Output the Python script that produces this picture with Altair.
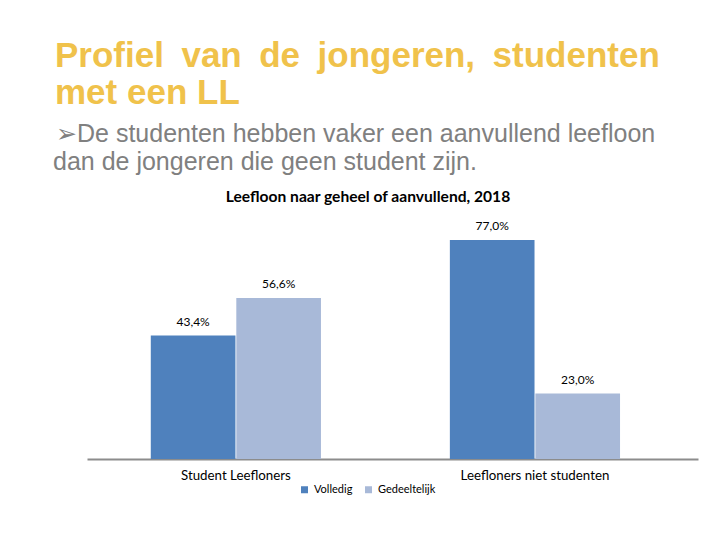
import altair as alt
import pandas as pd

groups = ["Student Leefloners", "Leefloners niet studenten"]
series = ["Volledig", "Gedeeltelijk"]
volledig = [43.4, 77.0]
gedeeltelijk = [56.6, 23.0]

rows = []
for g, v, p in zip(groups, volledig, gedeeltelijk):
    rows.append({"groep": g, "type": "Volledig", "waarde": v})
    rows.append({"groep": g, "type": "Gedeeltelijk", "waarde": p})
df = pd.DataFrame(rows)
df["label"] = df["waarde"].map(lambda v: f"{v:.1f}%".replace(".", ","))

SP = "\u2002"
title_lines = [f"Profiel{SP}van{SP}de{SP}jongeren,{SP}studenten", "met een LL"]
sub_lines = ["\u27a2De studenten hebben vaker een aanvullend leefloon",
             "dan de jongeren die geen student zijn."]
chart_title = "Leefloon naar geheel of aanvullend, 2018"

W, H = 611, 256

x = alt.X("groep:N", sort=groups,
          scale=alt.Scale(paddingInner=0.431, paddingOuter=0.237, align=0.45),
          axis=alt.Axis(title=None, labelAngle=0, ticks=False, domainColor="#8c8c8c",
                        domainWidth=2, labelFont="Lato", labelFontSize=13.3,
                        labelColor="#000000", labelPadding=9))
xo = alt.XOffset("type:N", sort=series, scale=alt.Scale(paddingInner=0.01))
y = alt.Y("waarde:Q", scale=alt.Scale(domain=[0, 90]), axis=None)

bars = alt.Chart(df).mark_bar().encode(
    x=x, xOffset=xo, y=y,
    color=alt.Color("type:N", sort=series,
                    scale=alt.Scale(domain=series, range=["#4F81BD", "#A8B9D8"]),
                    legend=alt.Legend(title=None, orient="none", direction="horizontal",
                                      legendX=212, legendY=281, symbolType="square",
                                      symbolSize=49, symbolStrokeWidth=0,
                                      labelFont="Lato", labelFontSize=11,
                                      labelColor="#000000", labelOffset=4,
                                      columnPadding=10)),
)

labels = alt.Chart(df).mark_text(dy=-14, font="Lato", fontSize=12, color="#000000").encode(
    x=x, xOffset=xo, y=y, text="label:N"
)

one = pd.DataFrame({"k": [0]})

def txt(t, xv, yv, **kw):
    return alt.Chart(one).mark_text(text=t, baseline="alphabetic", **kw).encode(
        x=alt.value(xv), y=alt.value(yv))

h1 = txt(title_lines[0], -32, -136, align="left", font="Liberation Sans", fontSize=35,
         fontWeight="bold", color="#F0C24B")
h2 = txt(title_lines[1], -32, -99, align="left", font="Liberation Sans", fontSize=35,
         fontWeight="bold", color="#F0C24B")
s1 = txt(sub_lines[0], -31, -61, align="left", font="Liberation Sans", fontSize=25,
         color="#808080")
s2 = txt(sub_lines[1], -34, -33, align="left", font="Liberation Sans", fontSize=25,
         color="#808080")
ct = txt(chart_title, 281, -1, align="center", font="Lato", fontSize=15.6,
         fontWeight="bold", color="#000000")

chart = alt.layer(bars, labels, h1, h2, s1, s2, ct).properties(
    width=W, height=H,
    background="#ffffff",
    autosize=alt.AutoSizeParams(type="none"),
    padding={"left": 79, "top": 195, "right": 14, "bottom": 73},
).configure_view(strokeWidth=0, stroke="transparent")

chart.save("out.html", embed_options={"renderer": "svg", "actions": False})
